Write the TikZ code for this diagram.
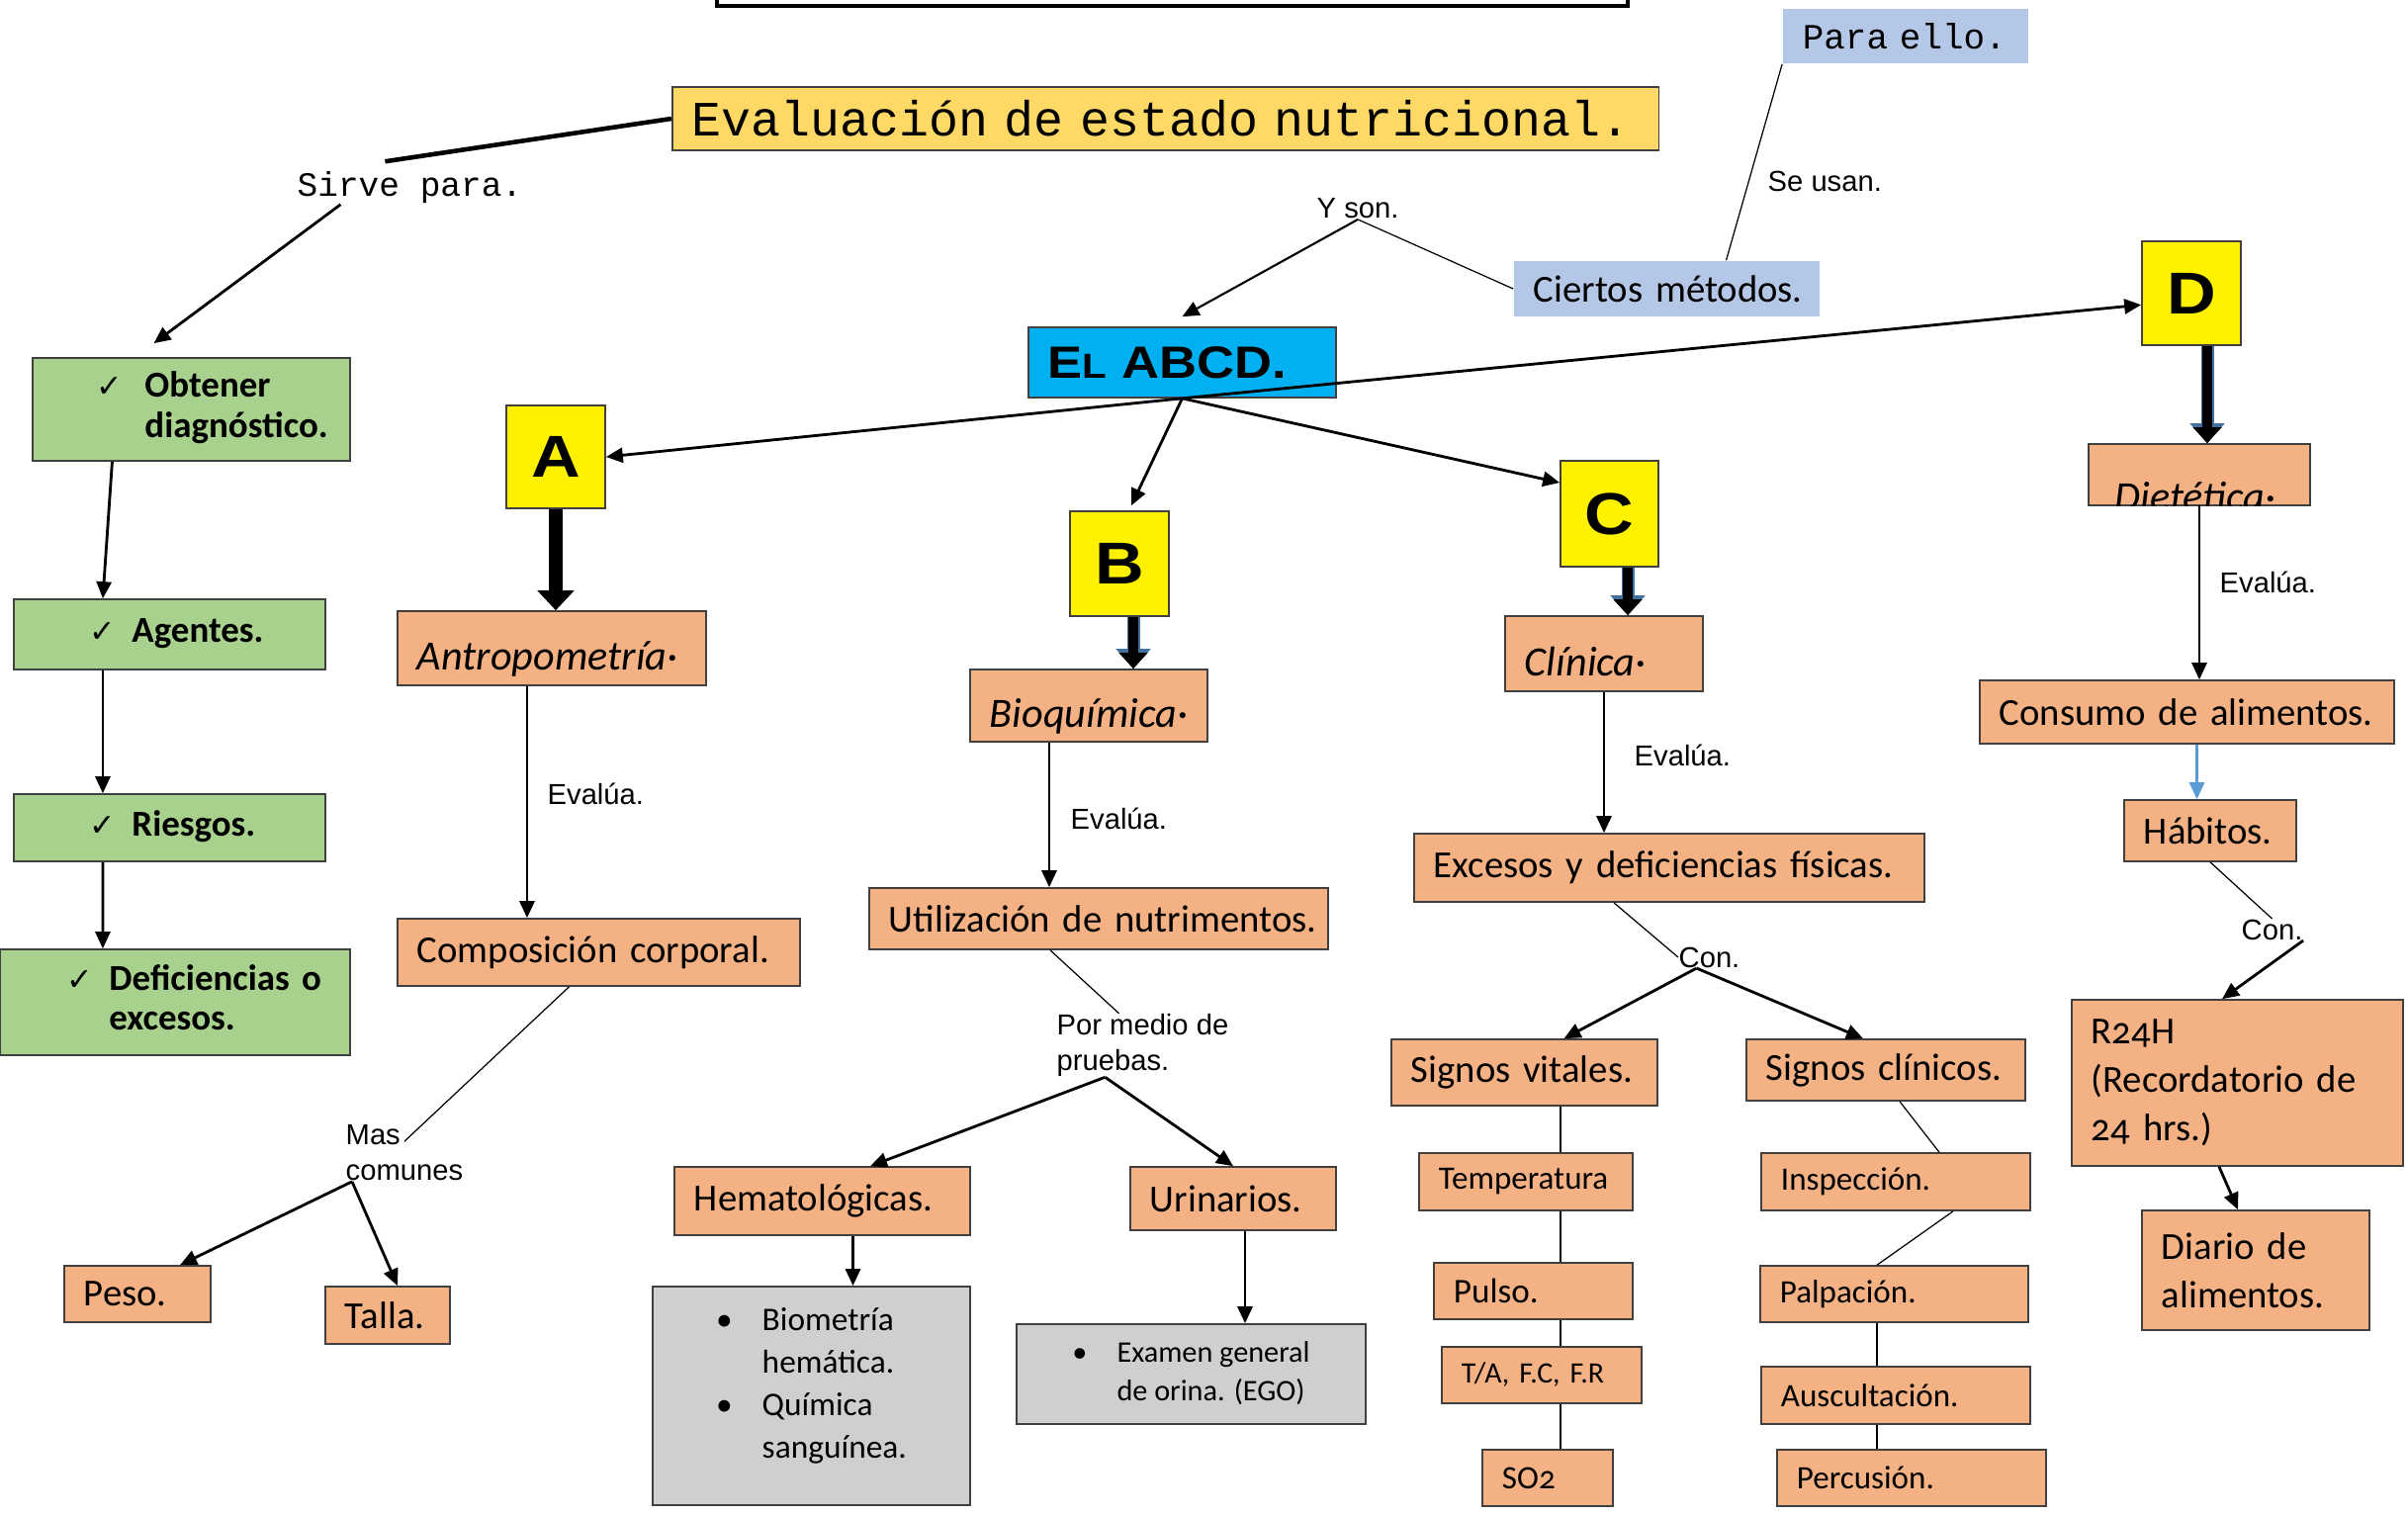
\documentclass[tikz,border=0pt]{standalone}
\usepackage{fontspec}
\setmainfont{Carlito}[Numbers=OldStyle]
\newfontfamily\labelfont{Liberation Sans}
\newfontfamily\codefont{Liberation Mono}
\newfontfamily\chkfont{DejaVu Sans}
\newfontfamily\widefont{Liberation Sans}[FakeStretch=1.15]
\usetikzlibrary{arrows.meta}
\definecolor{naranja}{HTML}{F4B183}
\definecolor{verde}{HTML}{A9D18E}
\definecolor{oro}{HTML}{FFD966}
\definecolor{celeste}{HTML}{B4C7E7}
\definecolor{cian}{HTML}{00B0F0}
\definecolor{gris}{HTML}{D0CECE}
\definecolor{borde}{HTML}{404040}
\definecolor{contorno}{HTML}{41719C}
\definecolor{azul}{HTML}{5B9BD5}
\newcommand{\chk}{{\chkfont\fontsize{9}{9}\selectfont ✓}}
\newcommand{\bajo}[1]{\raisebox{-0.22cm}[0pt][0pt]{#1}}
\begin{document}
\begin{tikzpicture}[x=0.01cm,y=-0.01cm,
  sz/.code 2 args={\pgfmathsetlengthmacro\boxtw{#1-0.4cm}%
    \edef\boxopts{minimum width=#1,minimum height=#2,text width=\boxtw}%
    \expandafter\pgfkeysalso\expandafter{\boxopts}},
  caja/.style={draw=borde, line width=0.45pt, fill=naranja, inner xsep=0.2cm, inner ysep=0pt, align=left, font=\fontsize{11}{14}\selectfont},
  chica/.style={caja, font=\fontsize{9.4}{11}\selectfont},
  mano/.style={caja, font=\itshape\fontsize{12}{14}\selectfont},
  cajaverde/.style={caja, fill=verde, font=\bfseries\fontsize{10.5}{11.5}\selectfont},
  cajagris/.style={draw=borde, line width=0.45pt, fill=gris, inner sep=0pt, align=left},
  nota/.style={caja, draw=none, fill=celeste},
  letra/.style={draw=borde, line width=0.45pt, fill=yellow, inner sep=0pt, font=\widefont\bfseries\fontsize{17}{17}\selectfont},
  etiqueta/.style={anchor=west, inner sep=0pt, align=left, font=\labelfont\fontsize{8.3}{10.2}\selectfont},
  codigo/.style={anchor=west, inner sep=0pt, font=\codefont\fontsize{9.8}{11}\selectfont},
  flecha/.style={line width=0.8pt, -{Triangle[length=0.17cm,width=0.15cm]}},
  linea/.style={line width=0.35pt},
  gruesa/.style={line width=0.14cm, -{Triangle[length=0.2cm,width=0.36cm]}},
  gruesab/.style={line width=0.1cm, -{Triangle[length=0.16cm,width=0.28cm]},
    preaction={draw=contorno, line width=0.13cm, -{Triangle[length=0.2cm,width=0.34cm]}}}]
\useasboundingbox (0,0) rectangle (2435,1532);
% Titulo
\draw[line width=1.2pt] (725,-20) rectangle (1646,6);
\node[caja, fill=oro, sz={9.97cm}{0.64cm}, font=\codefont\fontsize{14.2}{15}\selectfont] (eval) at (1178.5,120) {\mbox{Evaluación de estado nutricional.}};
\node[codigo] (sirve) at (300,190) {Sirve para.};
\node[nota, sz={2.48cm}{0.55cm}, font=\codefont\fontsize{10.2}{11}\selectfont] (para) at (1927,36.5) {Para ello.};
\node[etiqueta] (usan) at (1787,183) {Se usan.};
\node[nota, sz={3.09cm}{0.56cm}] (metodos) at (1685.5,292) {\mbox{Ciertos métodos.}};
\node[etiqueta] (yson) at (1331,211) {Y son.};
\node[caja, fill=cian, sz={3.11cm}{0.71cm}, font=\widefont\bfseries\fontsize{13}{13}\selectfont] (abcd) at (1195.5,366.5) {E{\fontsize{10}{10}\selectfont L} ABCD.};
% Sirve para
\node[cajaverde, sz={3.21cm}{1.04cm}] (obtener) at (193.5,414) {\hspace*{0.45cm}\begin{tabular}{@{}l@{\hspace{0.22cm}}l@{}}\chk & Obtener\\ & diagnóstico.\end{tabular}};
\node[cajaverde, sz={3.15cm}{0.71cm}] (agentes) at (171.5,641.5) {\hspace*{0.57cm}\begin{tabular}{@{}l@{\hspace{0.16cm}}l@{}}\chk & Agentes.\end{tabular}};
\node[cajaverde, sz={3.15cm}{0.68cm}] (riesgos) at (171.5,837) {\hspace*{0.57cm}\begin{tabular}{@{}l@{\hspace{0.16cm}}l@{}}\chk & Riesgos.\end{tabular}};
\node[cajaverde, sz={3.54cm}{1.07cm}] (deficiencias) at (177,1013.5) {\hspace*{0.48cm}\begin{tabular}{@{}l@{\hspace{0.16cm}}l@{}}\chk & Deficiencias o\\ & excesos.\end{tabular}};
% Letras
\node[letra, minimum width=1cm, minimum height=1.04cm] (A) at (562,462) {A};
\node[letra, minimum width=1cm, minimum height=1.06cm] (B) at (1132,570) {B};
\node[letra, minimum width=0.99cm, minimum height=1.07cm] (C) at (1627.5,519.5) {C};
\node[letra, minimum width=1cm, minimum height=1.05cm] (D) at (2216,296.5) {D};
% A
\node[mano, sz={3.12cm}{0.75cm}] (antro) at (558,655.5) {\bajo{Antropometría·}};
\node[etiqueta] (ev1) at (553,803) {Evalúa.};
\node[caja, sz={4.07cm}{0.68cm}] (comp) at (605.5,963) {\mbox{Composición corporal.}};
\node[etiqueta] (mas) at (349,1166) {Mas\\comunes};
\node[caja, sz={1.48cm}{0.57cm}] (peso) at (139,1308.5) {Peso.};
\node[caja, sz={1.26cm}{0.58cm}] (talla) at (392,1330) {Talla.};
% B
\node[mano, sz={2.40cm}{0.73cm}] (bioq) at (1101,713.5) {\bajo{Bioquímica·}};
\node[etiqueta] (ev2) at (1082,828) {Evalúa.};
\node[caja, sz={4.64cm}{0.62cm}] (util) at (1111,929) {\mbox{Utilización de nutrimentos.}};
\node[etiqueta] (pruebas) at (1068,1057) {Por medio de\\pruebas.};
\node[caja, sz={2.99cm}{0.69cm}] (hemato) at (831.5,1214.5) {Hematológicas.};
\node[caja, sz={2.08cm}{0.64cm}] (urin) at (1247,1212) {Urinarios.};
\node[cajagris, minimum width=3.21cm, minimum height=2.21cm, font=\fontsize{9.5}{12.2}\selectfont] (sangre) at (820.5,1411.5) {\raisebox{0.02cm}[0pt][0pt]{\begin{tabular}{@{}l@{\hspace{0.3cm}}l@{}}• & Biometría\\ & hemática.\\• & Química\\ & sanguínea.\end{tabular}}};
\node[cajagris, minimum width=3.53cm, minimum height=1.01cm, font=\fontsize{8.6}{11}\selectfont] (orina) at (1204.5,1389.5) {\begin{tabular}{@{}l@{\hspace{0.3cm}}l@{}}• & Examen general\\ & de orina. (EGO)\end{tabular}};
% C
\node[mano, sz={2.00cm}{0.76cm}] (clin) at (1622,661) {\bajo{Clínica·}};
\node[etiqueta] (ev3) at (1652,764) {Evalúa.};
\node[caja, sz={5.16cm}{0.69cm}] (exc) at (1688,877.5) {\mbox{Excesos y deficiencias físicas.}};
\node[etiqueta] (con) at (1697,968) {Con.};
\node[caja, sz={2.69cm}{0.67cm}] (vitales) at (1541.5,1084.5) {Signos vitales.};
\node[caja, sz={2.82cm}{0.62cm}] (clinicos) at (1907,1082) {Signos clínicos.};
\node[chica, sz={2.16cm}{0.58cm}] (temp) at (1543,1195) {Temperatura};
\node[chica, sz={2.01cm}{0.57cm}, font=\fontsize{10}{12}\selectfont] (pulso) at (1550.5,1305.5) {Pulso.};
\node[chica, sz={2.02cm}{0.57cm}, font=\fontsize{8.5}{10}\selectfont] (ta) at (1559,1390.5) {T/A, F.C, F.R};
\node[chica, sz={1.32cm}{0.57cm}] (so) at (1565,1494.5) {SO2};
\node[chica, sz={2.72cm}{0.58cm}] (insp) at (1917,1195) {Inspección.};
\node[chica, sz={2.71cm}{0.57cm}] (palp) at (1915.5,1308.5) {Palpación.};
\node[chica, sz={2.72cm}{0.58cm}] (ausc) at (1917,1411) {Auscultación.};
\node[chica, sz={2.72cm}{0.57cm}] (perc) at (1933,1494.5) {Percusión.};
% D
\node[caja, sz={2.24cm}{0.62cm}] (diet) at (2224,480) {};
\begin{scope}
  \clip (diet.north west) rectangle (diet.south east);
  \node[anchor=base west, inner sep=0pt, font=\itshape\fontsize{12}{14}\selectfont] (diettxt) at (2138,516) {Dietética·};
\end{scope}
\node[etiqueta] (ev4) at (2244,589) {Evalúa.};
\node[caja, sz={4.19cm}{0.64cm}] (consumo) at (2211.5,720) {\mbox{Consumo de alimentos.}};
\node[caja, sz={1.74cm}{0.62cm}] (habitos) at (2235,840) {Hábitos.};
\node[etiqueta] (con2) at (2266,940) {Con.};
\node[caja, sz={3.35cm}{1.68cm}] (r24) at (2262.5,1095) {R24H\\(Recordatorio de\\24 hrs.)};
\node[caja, sz={2.30cm}{1.21cm}] (diario) at (2281,1284.5) {Diario de\\alimentos.};
%
% Conectores: evaluacion
\draw[line width=1.3pt] (eval.west) -- ([xshift=-0.25cm,yshift=0.1cm]sirve.north);
\draw[flecha] ([xshift=-0.7cm]sirve.south) -- ([xshift=-0.38cm,yshift=0.14cm]obtener.north);
\draw[flecha] ([xshift=-0.8cm]obtener.south) -- ([xshift=-0.675cm]agentes.north);
\draw[flecha] ([xshift=-0.675cm]agentes.south) -- ([xshift=-0.675cm]riesgos.north);
\draw[flecha] ([xshift=-0.675cm]riesgos.south) -- ([xshift=-0.73cm]deficiencias.north);
% Conectores: metodos
\draw[linea] (para.south west) -- ([xshift=0.6cm]metodos.north);
\draw[linea] (metodos.west) -- (yson.south);
\draw[flecha, line width=0.6pt] (yson.south) -- ([yshift=0.1cm]abcd.north);
% Conectores: ABCD
\draw[flecha] (abcd.south) -- (A.east);
\draw[flecha] (abcd.south) -- (D.193);
\draw[flecha] (abcd.south) -- ([xshift=0.12cm,yshift=0.05cm]B.north);
\draw[flecha] (abcd.south) -- (C.148);
\draw[gruesa] (A.south) -- (A.south |- antro.north);
\draw[gruesab] ([xshift=0.14cm]B.south) -- ([xshift=0.14cm]B.south |- bioq.north);
\draw[gruesab] ([xshift=0.185cm]C.south) -- ([xshift=0.185cm]C.south |- clin.north);
\draw[gruesab] ([xshift=0.16cm]D.south) -- ([xshift=0.16cm]D.south |- diet.north);
% A
\draw[flecha] ([xshift=-0.25cm]antro.south) -- ([xshift=-0.25cm]antro.south |- comp.north);
\draw[linea] ([xshift=-0.3cm]comp.south) -- ([yshift=-0.17cm]mas.north);
\draw[flecha] ([xshift=0.07cm]mas.south west) -- ([xshift=0.43cm]peso.north);
\draw[flecha] ([xshift=0.07cm]mas.south west) -- ([xshift=0.1cm]talla.north);
% B
\draw[flecha] ([xshift=-0.4cm]bioq.south) -- ([xshift=-0.4cm]bioq.south |- util.north);
\draw[linea] ([xshift=-0.49cm]util.south) -- ([xshift=-0.24cm]pruebas.north);
\draw[flecha] ([xshift=-0.38cm]pruebas.south) -- ([xshift=0.485cm]hemato.north);
\draw[flecha] ([xshift=-0.38cm]pruebas.south) -- (urin.north);
\draw[flecha] ([xshift=0.31cm]hemato.south) -- ([xshift=0.31cm]hemato.south |- sangre.north);
\draw[flecha] ([xshift=0.12cm]urin.south) -- ([xshift=0.12cm]urin.south |- orina.north);
% C
\draw[flecha] (clin.south) -- (clin.south |- exc.north);
\draw[linea] ([xshift=-0.56cm]exc.south) -- (con.west);
\draw[flecha] ([xshift=-0.13cm]con.south) -- ([xshift=0.4cm]vitales.north);
\draw[flecha] ([xshift=-0.13cm]con.south) -- ([xshift=-0.23cm]clinicos.north);
\coordinate (vx) at ([xshift=0.365cm]vitales.south);
\foreach \a/\b in {vitales/temp, temp/pulso, pulso/ta, ta/so}
  \draw[linea] (vx |- \a.south) -- (vx |- \b.north);
\draw[linea] ([xshift=0.14cm]clinicos.south) -- ([xshift=0.44cm]insp.north);
\draw[linea] ([xshift=0.58cm]insp.south) -- ([xshift=-0.175cm]palp.north);
\coordinate (cx) at ([xshift=-0.175cm]palp.south);
\foreach \a/\b in {palp/ausc, ausc/perc}
  \draw[linea] (cx |- \a.south) -- (cx |- \b.north);
% D
\draw[flecha] (diet.south) -- (diet.south |- consumo.north);
\draw[flecha, color=azul] ([xshift=0.1cm]consumo.south) -- ([xshift=0.1cm]consumo.south |- habitos.north);
\draw[linea] (habitos.south) -- (con2.north);
\draw[flecha] (con2.south east) -- ([xshift=-0.155cm]r24.north);
\draw[flecha] ([xshift=-0.185cm]r24.south) -- ([xshift=-0.18cm]diario.north);
\end{tikzpicture}
\end{document}
